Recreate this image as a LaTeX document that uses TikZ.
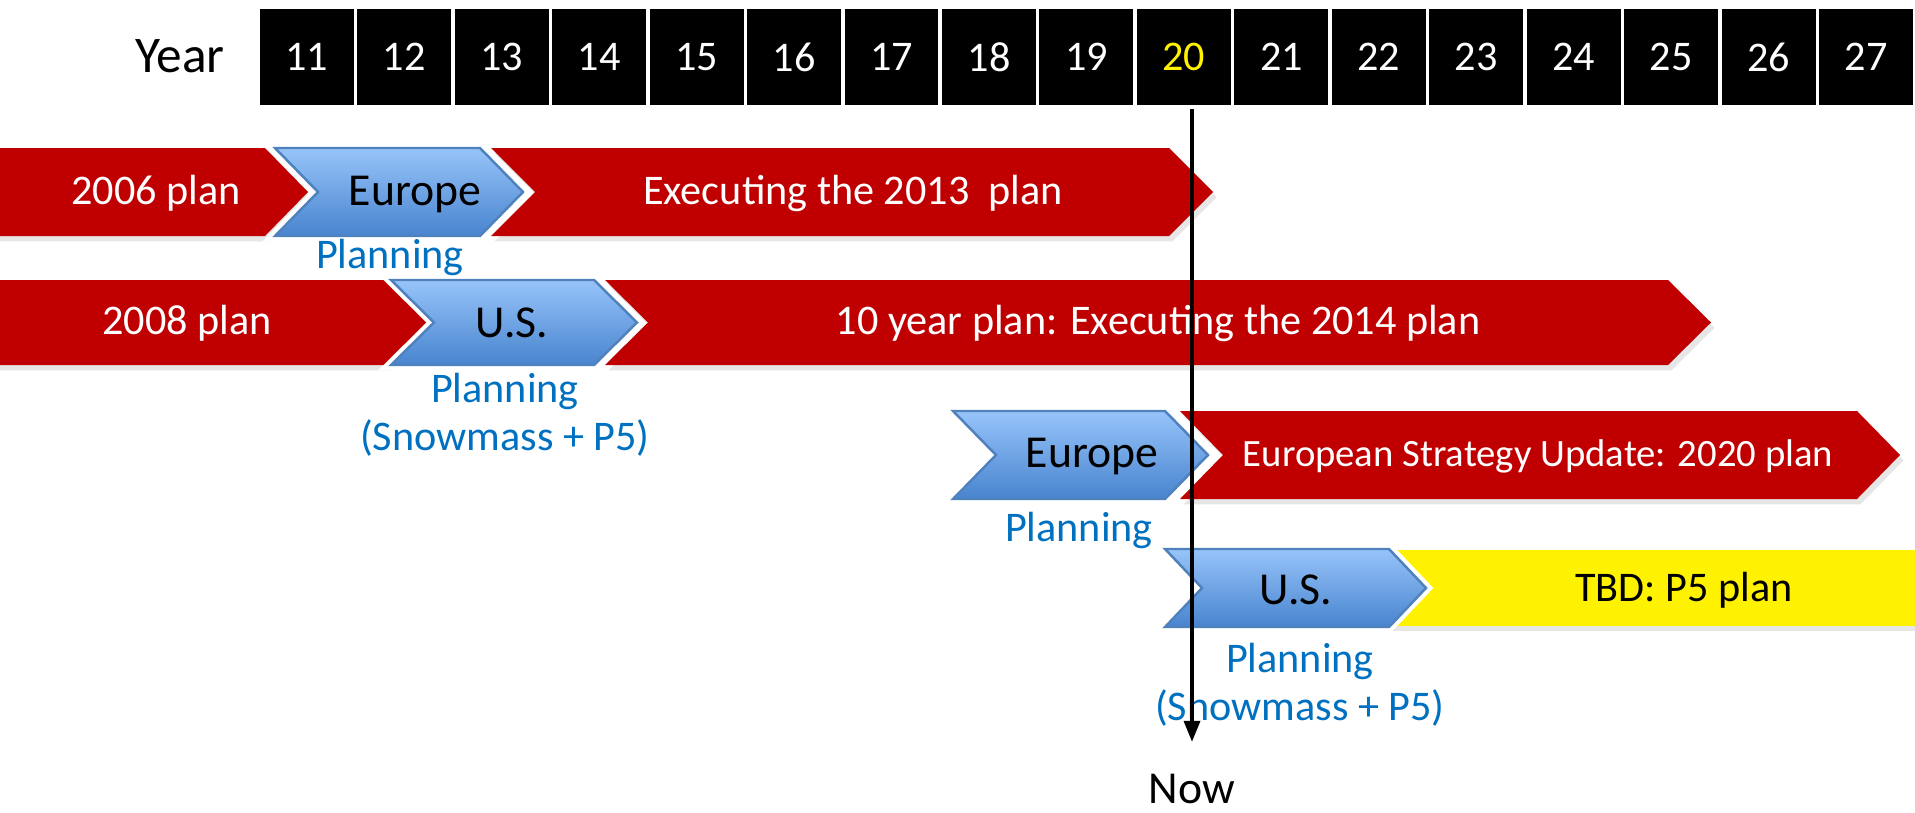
\documentclass[tikz,border=0pt]{standalone}
\usepackage{fontspec}
\setmainfont{Carlito}
\usetikzlibrary{positioning}
\usetikzlibrary{shadows}
\usetikzlibrary{arrows.meta}
\definecolor{barred}{RGB}{192,0,0}
\definecolor{planblue}{RGB}{0,112,192}
\definecolor{chevtop}{RGB}{151,196,250}
\definecolor{chevbot}{RGB}{72,132,206}
\definecolor{chevedge}{RGB}{79,129,189}
\tikzset{
  yearbox/.style = {fill=black, draw=white, line width=1pt, minimum width=0.975cm,
    minimum height=1cm, inner sep=0pt, font=\fontsize{12}{14}\selectfont},
  redbar/.style = {fill=barred, drop shadow={opacity=0.2, shadow xshift=1pt, shadow yshift=-1.5pt}},
  yellowbar/.style = {fill=yellow, drop shadow={opacity=0.2, shadow xshift=1pt, shadow yshift=-1.5pt}},
  bluechev/.style = {preaction={draw=white, line width=3pt}, top color=chevtop,
    bottom color=chevbot, draw=chevedge, line width=0.7pt},
  bartext/.style = {text=white, font=\fontsize{12}{14}\selectfont},
  chevtext/.style = {text=black, font=\fontsize{13}{15}\selectfont},
  plantext/.style = {text=planblue, align=center, font=\fontsize{12}{13.5}\selectfont},
  nowarrow/.style = {-{Triangle[length=6pt, width=4.5pt]}, line width=1.1pt}
}
% style, left x, right x, top y, bottom y, point depth
\newcommand{\chevbar}[6]{%
  \path[#1] (#2,#4) -- (#3,#4) -- ++(#6,{(#5-#4)/2}) -- (#3,#5) -- (#2,#5)
    -- ++(#6,{(#4-#5)/2}) -- cycle;}

\begin{document}
\begin{tikzpicture}[x=0.01cm, y=-0.01cm]
  \useasboundingbox (0,0) rectangle (1915,812);
  % years
  \node[font=\fontsize{14.6}{16}\selectfont] (year) at (180,56) {Year};
  \foreach \yr [count=\i from 0] in {11,...,27} {
    \ifnum\yr=20 \def\yc{yellow}\else\def\yc{white}\fi
    \node[yearbox, text=\yc] (y\yr) at ({306.7+97.47*\i},57) {\yr};
  }
  % bars
  \chevbar{redbar}{-60}{265}{148}{236}{43}
  \chevbar{redbar}{491}{1169}{148}{236}{44}
  \chevbar{redbar}{-60}{387}{280}{365}{43}
  \chevbar{redbar}{605}{1668}{280}{365}{43}
  \chevbar{redbar}{1180}{1857}{411}{499}{43}
  \path[yellowbar] (1380,550) rectangle (1915,626);
  % planning chevrons
  \chevbar{bluechev}{275}{480}{148}{236}{43}
  \chevbar{bluechev}{391}{594}{280}{365}{43}
  \chevbar{bluechev}{953}{1165}{411}{499}{43}
  \chevbar{bluechev}{1165}{1389}{549}{627}{37}
  % texts
  \node[bartext] (p06) at (156,193) {2006 plan};
  \node[chevtext] (eu1) at (415,195) {Europe};
  \node[bartext] (ex13) at (853,193) {Executing the 2013~~plan};
  \node[plantext] (pl1) at (390,257) {Planning};
  \node[bartext] (p08) at (187,323) {2008 plan};
  \node[chevtext] (us1) at (512,323) {U.S.};
  \node[bartext] (ex14) at (1158,323) {10 year plan: Executing the 2014 plan};
  \node[plantext] (pl2) at (505,415) {Planning\\(Snowmass + P5)};
  \node[chevtext] (eu2) at (1092,457) {Europe};
  \node[bartext, font=\fontsize{11}{13}\selectfont] (esu) at (1538,456) {European Strategy Update: 2020 plan};
  \node[plantext] (pl3) at (1079,530) {Planning};
  \node[chevtext] (us2) at (1296,590) {U.S.};
  \node[text=black, font=\fontsize{12}{14}\selectfont] (tbd) at (1684,590) {TBD: P5 plan};
  \node[plantext] (pl4) at (1300,685) {Planning\\(Snowmass + P5)};
  % now
  \node[font=\fontsize{13}{15}\selectfont, inner sep=1pt] (now) at (1192,789) {Now};
  \coordinate[above=0.28cm of now] (nowtip);
  \draw[nowarrow] (now |- y20.south) -- (nowtip);
\end{tikzpicture}
\end{document}
